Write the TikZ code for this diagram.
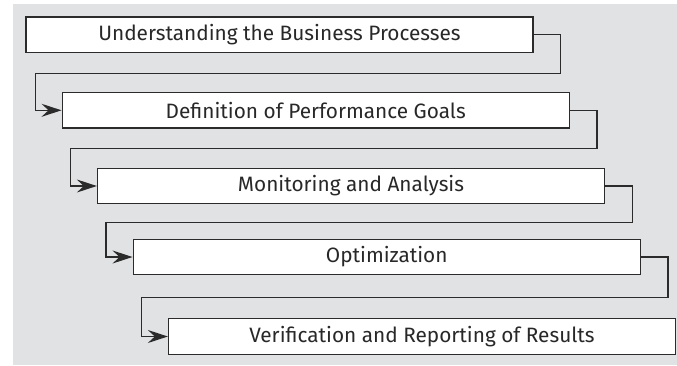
\documentclass[tikz,border=0pt]{standalone}
\usepackage{fontspec}
\setmainfont{Fira Sans}
\usetikzlibrary{positioning, arrows.meta, calc}
\definecolor{backcol}{RGB}{225,226,228}
\definecolor{linecol}{RGB}{43,43,43}
\definecolor{textcol}{RGB}{40,40,40}

\begin{document}
\begin{tikzpicture}[
			x=1pt, y=1pt,
			stage/.style={
				draw=linecol,
				fill=white,
				line width=1.3pt,
				minimum width=507pt,
				minimum height=35.5pt,
				inner sep=0pt,
				text=textcol,
				font=\fontsize{20.8}{24}\selectfont
			},
			flow/.style={
				draw=linecol,
				line width=1.3pt,
				-{Stealth[length=20pt, width=13pt, inset=7pt]}
			}
			]
			\useasboundingbox (0,0) rectangle (677,-365);
			\fill[backcol] (13,-4) rectangle (677,-365);
			
			% Stages
			\node[stage] (s1) at (279.5,-34.8)  {Understanding the Business Processes};
			\node[stage] (s2) at (315.7,-110.3) {Definition of Performance Goals};
			\node[stage] (s3) at (351,-186)     {Monitoring and Analysis};
			\node[stage] (s4) at (386.7,-257)   {Optimization};
			\node[stage] (s5) at (422,-336.5)   {Verification and Reporting of Results};
			
			% Connectors
			\draw[flow] (s1.east) -- ++(27,0) |- ($(s1.south west)+(10,-20)$) |- (s2.west);
			\draw[flow] (s2.east) -- ++(27,0) |- ($(s2.south west)+(9,-20)$) |- (s3.west);
			\draw[flow] (s3.east) -- ++(27,0) |- ($(s3.south west)+(9,-18)$) |- (s4.west);
			\draw[flow] (s4.east) -- ++(27,0) |- ($(s4.south west)+(9,-22)$) |- (s5.west);
		\end{tikzpicture}
\end{document}
